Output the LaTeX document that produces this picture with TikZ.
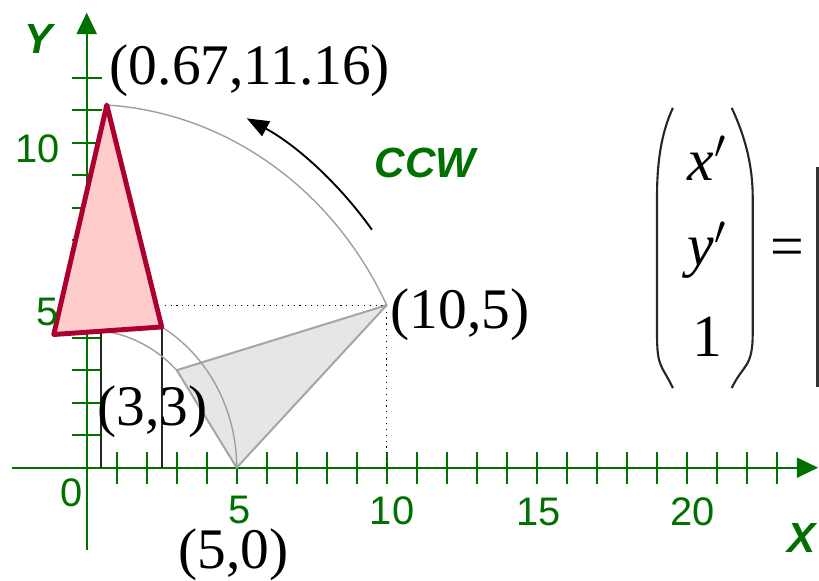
\documentclass[tikz,border=0pt]{standalone}
\usepackage{fontspec}
\setmainfont{Liberation Serif}
\setsansfont{Liberation Sans}
\usepackage{amsmath}
\usetikzlibrary{arrows.meta}
\definecolor{axgreen}{RGB}{0,112,0}
\definecolor{rotred}{RGB}{172,0,48}
\definecolor{rotpink}{RGB}{255,204,204}
\definecolor{origfill}{RGB}{230,230,230}
\definecolor{origedge}{RGB}{165,165,165}
\tikzset{
  axisline/.style={draw=axgreen, line width=0.9pt,
                   -{Triangle[length=0.32cm, width=0.3cm]}},
  tickmark/.style={draw=axgreen, line width=0.8pt},
  numlbl/.style={text=axgreen, font=\sffamily\fontsize{17}{20}\selectfont,
                 inner sep=0pt},
  axlbl/.style={text=axgreen, font=\sffamily\bfseries\itshape\fontsize{18}{21}\selectfont,
                inner sep=0pt},
  ptlbl/.style={font=\fontsize{24.5}{29}\selectfont, inner sep=0pt},
  entry/.style={font=\fontsize{25.5}{30}\selectfont, inner sep=0pt},
  guide/.style={black, line width=0.5pt, dotted},
  arcline/.style={draw=gray!75, line width=0.6pt},
  drop/.style={black!85, line width=0.8pt},
  paren/.style={black!85, line width=0.9pt},
}

\begin{document}
\begin{tikzpicture}[x=0.45cm, y=0.4875cm]
  \useasboundingbox (-2.89,-3.486) rectangle (24.41,14.39);

  % axes and ticks
  \coordinate (O) at (0,0);
  \draw[axisline] (-2.5,0) -- (24.38,0);
  \draw[axisline] (0,-2.52) -- (0,14.0);
  \foreach \i in {1,...,23}
    \draw[tickmark] (\i,-0.49) -- (\i,0.49);
  \foreach \j in {1,...,12}
    \draw[tickmark] (-0.5,\j) -- (0.5,\j);

  % corners before and after the 60 degree turn
  \coordinate (gA) at (5,0);
  \coordinate (gB) at (10,5);
  \coordinate (gC) at (3,3);
  \coordinate (rA) at (2.5,4.330);
  \coordinate (rB) at (0.670,11.160);
  \coordinate (rC) at (-1.098,4.098);

  \draw[guide] (2.6,5) -- (gB) -- (10,0);
  \draw[drop] (0.47,0) -- (0.47,4.25);
  \draw[drop] (2.5,0) -- (rA);

  \draw[fill=origfill, draw=origedge, line width=0.85pt, line join=round]
    (gA) -- (gB) -- (gC) -- cycle;
  \draw[arcline] (gA) arc[start angle=0, end angle=60, radius=5];
  \draw[arcline] (gC) arc[start angle=45, end angle=105, radius=4.2426];
  \draw[arcline] (gB) arc[start angle=26.565, end angle=86.565, radius=11.1803];
  \draw[fill=rotpink, draw=rotred, line width=2.1pt, line join=round]
    (rA) -- (rB) -- (rC) -- cycle;

  % turning direction
  \coordinate (ccwA) at (9.507,7.322);
  \draw[-{Triangle[length=0.33cm, width=0.25cm]}, line width=0.8pt]
    (ccwA) arc[start angle=37.6, end angle=63.6, radius=12];
  \node[axlbl] (ccw) at (11.28,9.37) {CCW};

  % point labels
  \node[ptlbl] (lblB) at (5.44,12.23) {(0.67,11.16)};
  \node[ptlbl] (lblA) at (12.44,4.70) {(10,5)};
  \node[ptlbl] (lblC) at (2.2,1.72) {(3,3)};
  \node[ptlbl] (lblD) at (4.89,-2.69) {(5,0)};

  % axis labels
  \node[axlbl] (ylbl) at (-1.59,13.2) {Y};
  \node[axlbl] (xlbl) at (23.84,-2.17) {X};
  \node[numlbl] (n0) at (-0.49,-0.78) {0};
  \node[numlbl] (n5) at (5.11,-1.3) {5};
  \node[numlbl] (n10) at (10.18,-1.33) {10};
  \node[numlbl] (n15) at (15.07,-1.36) {15};
  \node[numlbl] (n20) at (20.2,-1.36) {20};
  \node[numlbl] (m10) at (-1.64,9.81) {10};
  \node[numlbl] (m5) at (-1.31,4.8) {5};

  % matrix form, cut at the right edge
  \node[entry] (ex) at (20.68,9.52) {\textit{x}$'$};
  \node[entry] (ey) at (20.68,6.69) {\textit{y}$'$};
  \node[entry] (e1) at (20.68,4.02) {1};
  \node[entry] (eq) at (23.34,6.62) {=};
  \draw[paren] (19.54,11.07) .. controls (19.15,10.3) and (19.01,9.4) .. (19.01,8.32)
    -- (19.01,4.14) .. controls (19.01,3.06) and (19.15,3.2) .. (19.54,2.45);
  \draw[paren] (21.5,11.07) .. controls (21.89,10.3) and (22.2,9.4) .. (22.2,8.32)
    -- (22.2,4.14) .. controls (22.2,3.06) and (21.89,3.2) .. (21.5,2.45);
  \draw[black!80, line width=1.2pt] (24.37,9.25) -- (24.37,2.48);
\end{tikzpicture}
\end{document}
